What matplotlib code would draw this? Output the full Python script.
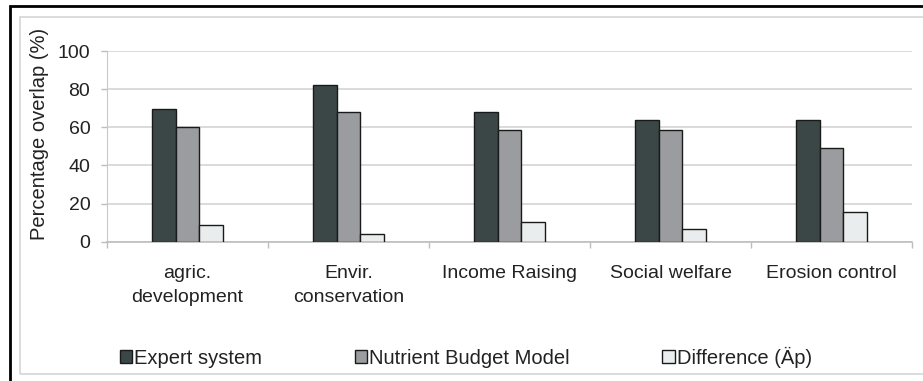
import numpy as np
import matplotlib
matplotlib.use("Agg")
import matplotlib.pyplot as plt
from matplotlib.patches import Rectangle, Patch

# Overlap per land-use objective
categories = ["agric.\ndevelopment", "Envir.\nconservation", "Income Raising",
              "Social welfare", "Erosion control"]
expert_system = [69.5, 82, 68, 64, 64]
nutrient_budget = [60, 68, 58.5, 58.5, 49]
difference = [9, 4, 10.5, 6.5, 15.5]

series_names = ["Expert system", "Nutrient Budget Model", "Difference (\u00c4p)"]
colors = ["#3b4747", "#9b9c9f", "#e9eded"]

plt.rcParams["font.family"] = ["Liberation Sans", "DejaVu Sans"]
plt.rcParams["font.size"] = 14

W, H = 923, 381
fig = plt.figure(figsize=(W / 100, H / 100), dpi=100)

# outer black frame and inner grey chart-area frame (run off the right/bottom edge)
fig.patches.append(Rectangle((10 / W, -0.2), 1.5, 1.2 - 6 / H, transform=fig.transFigure,
                             fill=False, edgecolor="black", linewidth=2.0))
fig.patches.append(Rectangle((20 / W, 7 / H), 1.5, (374 - 17) / H, transform=fig.transFigure,
                             fill=False, edgecolor="#d6d6d6", linewidth=1.2))

ax = fig.add_axes([107 / W, (H - 241.7) / H, (912 - 107) / W, (241.7 - 51) / H])

x = np.arange(len(categories))
w = 0.149
for i, (vals, name, c) in enumerate(zip([expert_system, nutrient_budget, difference],
                                         series_names, colors)):
    ax.bar(x + (i - 1) * w, vals, width=w, color=c, edgecolor="#1a1a1a",
           linewidth=1.0, label=name, zorder=3)

ax.set_xlim(-0.5, len(categories) - 0.5)
ax.set_ylim(0, 100)
ax.set_yticks(np.arange(0, 101, 20))
ax.yaxis.grid(True, color="#d4d4d4", linewidth=1.2, zorder=0)

ax.set_xticks(x)
ax.set_xticklabels(categories, linespacing=1.55)
ax.set_xticks(np.arange(-0.5, len(categories)), minor=True)
ax.tick_params(axis="x", which="major", length=0, pad=17, colors="#222222")
ax.tick_params(axis="x", which="minor", length=4, color="#bdbdbd", width=1)
ax.tick_params(axis="y", length=4, width=1, pad=8, colors="#222222")
ax.tick_params(axis="y", color="#bdbdbd")

for side in ["top", "right"]:
    ax.spines[side].set_visible(False)
ax.spines["left"].set_color("#c8c8c8")
ax.spines["bottom"].set_color("#bdbdbd")
ax.spines["bottom"].set_linewidth(1.2)

fig.text(40 / W, 1 - 134 / H, "Percentage overlap (%)", rotation=90,
         ha="center", va="center", color="#222222", fontsize=14.5)

handles = [Patch(facecolor=c, edgecolor="#1a1a1a", linewidth=1.0) for c in colors]
fig.legend(handles, series_names, loc="center", bbox_to_anchor=(466 / W, 1 - 357 / H),
           ncol=3, frameon=False, handlelength=0.6, handleheight=0.6,
           handletextpad=0.1, columnspacing=4.6, borderpad=0, fontsize=14.5,
           labelcolor="#222222")

fig.savefig("out.png", dpi=100)
